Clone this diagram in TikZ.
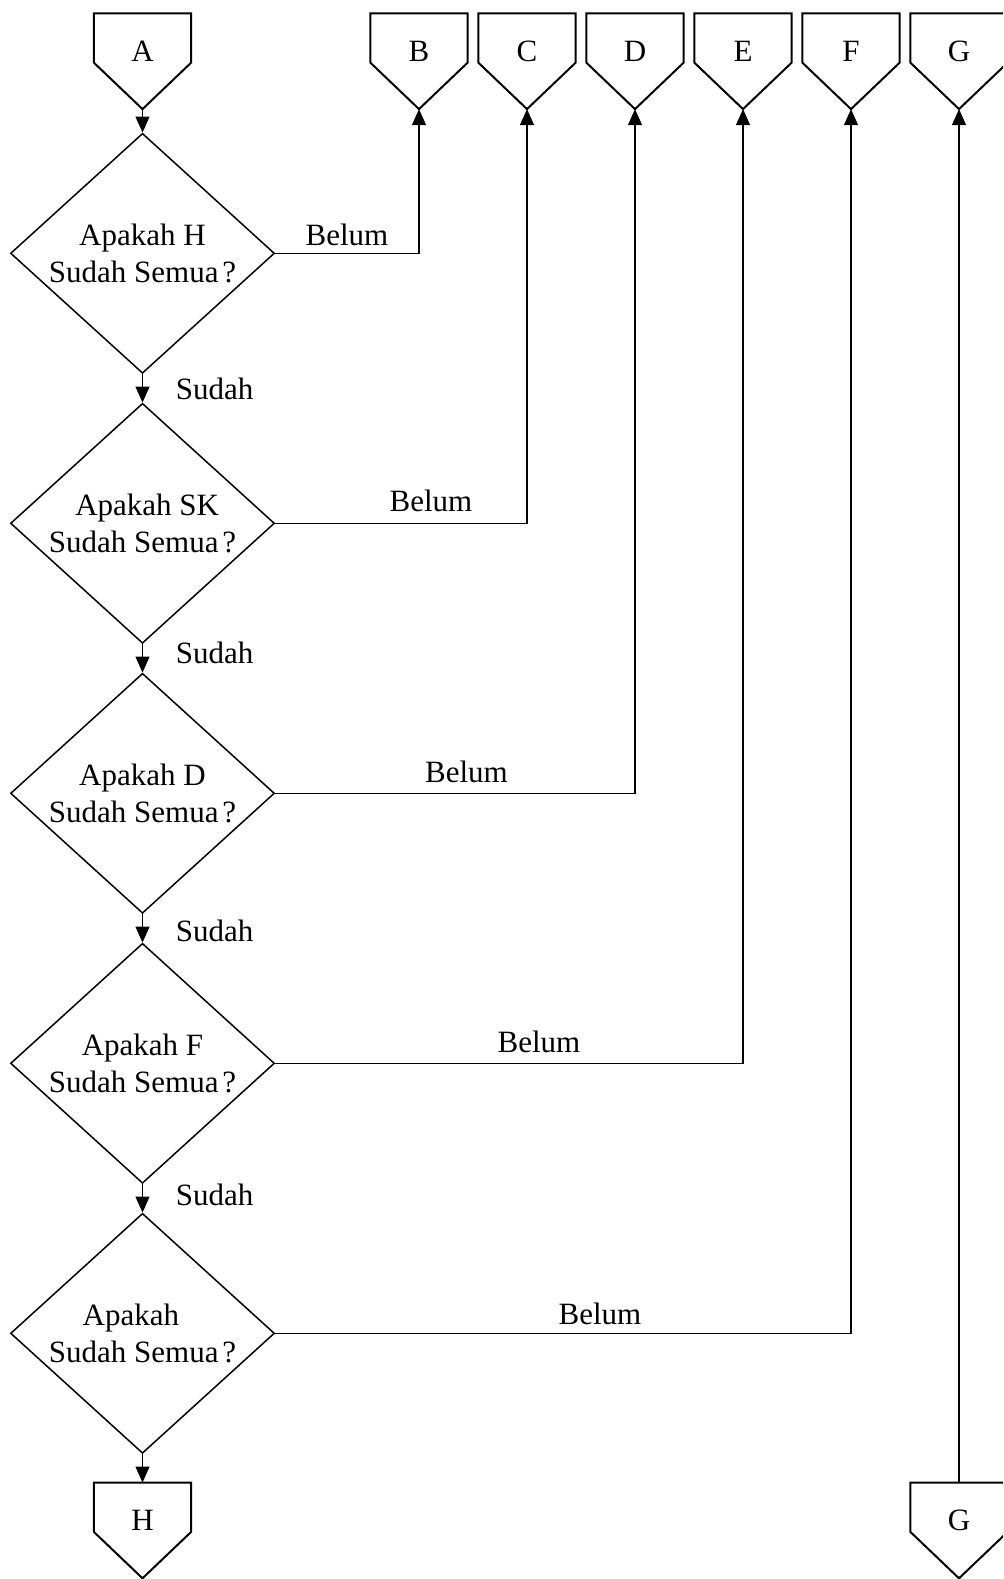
\documentclass[tikz,border=0pt]{standalone}
\usepackage{fontspec}
\setmainfont{Liberation Serif}
\usetikzlibrary{shapes.geometric,arrows.meta,calc}

% off-page connector: name, centre x, top y, letter
\newcommand\opconn[4]{%
  \node[conbox, anchor=north] (#1) at (#2,#3) {};
  \draw[boxline] (#1.north west) -- (#1.north east) -- (#1.south east)
    -- ($(#1.south)+(0,46.5)$) coordinate (#1-tip) -- (#1.south west) -- cycle;
  \node[lbl] (#1-txt) at ($(#1.south)+(0,-1.5)$) {#4};
}

\begin{document}
\begin{tikzpicture}[x=0.5pt,y=-0.5pt,
  every node/.style={font=\fontsize{15.5pt}{18.75pt}\selectfont},
  decision/.style={draw, shape=diamond, aspect=1.1, inner sep=0pt,
    minimum width=132pt, minimum height=120pt, line width=0.75pt, align=center},
  conbox/.style={minimum width=48.3pt, minimum height=24.25pt, inner sep=0pt},
  boxline/.style={line width=1pt},
  flow/.style={line width=0.6pt, -{Triangle[length=8pt,width=7pt]}},
  lbl/.style={anchor=base, inner sep=0pt},
]
\useasboundingbox (0,0) rectangle (1003,1579);
\clip (0,0) rectangle (1003,1579);

% connectors along the top
\opconn{A}{142.5}{13.3}{A}
\opconn{B}{419}{13.3}{B}
\opconn{C}{527}{13.3}{C}
\opconn{D}{635}{13.3}{D}
\opconn{E}{743}{13.3}{E}
\opconn{F}{851}{13.3}{F}
\opconn{G}{959}{13.3}{G}

% connectors along the bottom
\opconn{H}{142.5}{1482.5}{H}
\opconn{G2}{959}{1482.5}{G}

% decisions
\node[decision] (q1) at (142.5,253.3) {Apakah H\\Sudah Semua\hspace{0.12em}?};
\node[decision] (q2) at (142.5,523.3) {\hspace*{0.3em}Apakah SK\\Sudah Semua\hspace{0.12em}?};
\node[decision] (q3) at (142.5,793.3) {Apakah D\\Sudah Semua\hspace{0.12em}?};
\node[decision] (q4) at (142.5,1063.3) {Apakah F\\Sudah Semua\hspace{0.12em}?};
\node[decision] (q5) at (142.5,1333.3) {Apakah\hspace*{0.75em}\\Sudah Semua\hspace{0.12em}?};

% main flow
\draw[flow] (A-tip) -- (q1.north);
\draw[flow] (q1.south) -- (q2.north);
\draw[flow] (q2.south) -- (q3.north);
\draw[flow] (q3.south) -- (q4.north);
\draw[flow] (q4.south) -- (q5.north);
\draw[flow] (q5.south) -- (H.north);

% branches back to the top connectors
\draw[flow] (q1.east) -| (B-tip);
\draw[flow] (q2.east) -| (C-tip);
\draw[flow] (q3.east) -| (D-tip);
\draw[flow] (q4.east) -| (E-tip);
\draw[flow] (q5.east) -| (F-tip);
\draw[flow] (G2.north) -- (G-tip);

% branch labels
\node[lbl] (n1) at (347,245.5) {Belum};
\node[lbl] (n2) at (431,511.5) {Belum};
\node[lbl] (n3) at (466.5,782.5) {Belum};
\node[lbl] (n4) at (539,1052.5) {Belum};
\node[lbl] (n5) at (600,1324.5) {Belum};

\node[lbl] (y1) at (214.7,399.5) {Sudah};
\node[lbl] (y2) at (214.7,663.5) {Sudah};
\node[lbl] (y3) at (214.7,941) {Sudah};
\node[lbl] (y4) at (214.7,1205) {Sudah};
\end{tikzpicture}
\end{document}
